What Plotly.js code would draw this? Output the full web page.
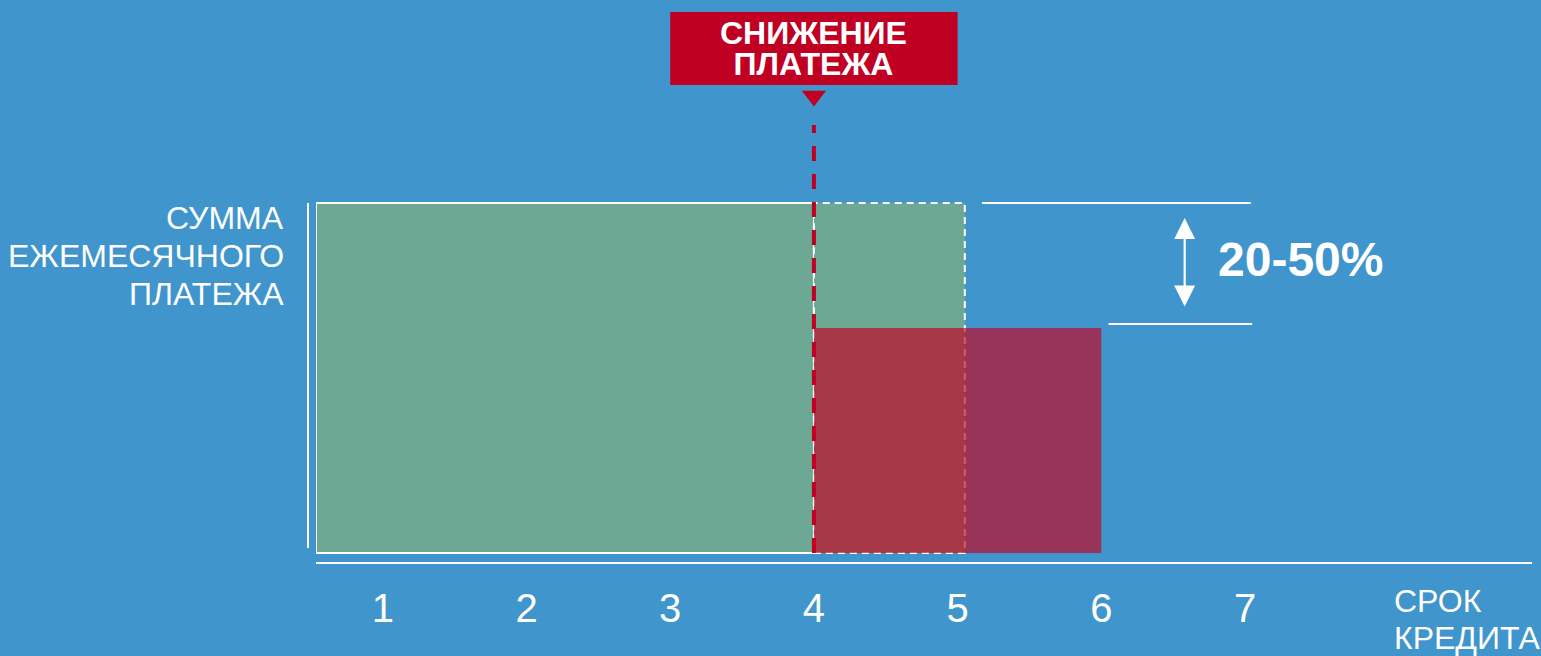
<!DOCTYPE html>
<html>
<head>
<meta charset="utf-8">
<script src="https://cdn.plot.ly/plotly-3.0.1.min.js"></script>
<style>html,body{margin:0;padding:0;background:#4095CD;}#chart{width:1541px;height:656px;}</style>
</head>
<body>
<div id="chart"></div>
<script>
// ---- data ----
const termTicks = [1, 2, 3, 4, 5, 6, 7];
const termTickLabels = ['1', '2', '3', '4', '5', '6', '7'];
const originalTerm = [0.535, 5.05];     // start / end of original loan term
const paidUntil = 4;                    // moment of payment reduction
const newTerm = [4, 6];                 // new term after reduction
const originalPayment = 1.0;
const newPayment = 0.643;
const reductionLabel = '20-50%';
const yTitleLines = ['СУММА', 'ЕЖЕМЕСЯЧНОГО', 'ПЛАТЕЖА'];
const xTitleLines = ['СРОК', 'КРЕДИТА'];
const calloutLines = ['СНИЖЕНИЕ', 'ПЛАТЕЖА'];

const BLUE = '#4095CD', GREEN = '#6CA894', RED = '#C00023';
const FONT = 'Liberation Sans, Arial, sans-serif';
const PW = 1216, PH = 562, ML = 316;   // plot geometry helpers for paper refs

const shapes = [
  {type:'rect', xref:'x', yref:'y', x0: originalTerm[0], x1: paidUntil, y0: 0, y1: originalPayment,
   fillcolor: GREEN, line:{color:'white', width:2}, layer:'above'},
  {type:'rect', xref:'x', yref:'y', x0: paidUntil, x1: originalTerm[1], y0: 0, y1: originalPayment,
   fillcolor: GREEN, line:{color:'white', width:2, dash:'7px,5px'}, layer:'above'},
  {type:'rect', xref:'x', yref:'y', x0: newTerm[0], x1: newTerm[1], y0: 0, y1: newPayment,
   fillcolor: 'rgba(198,0,30,0.66)', line:{width:0}, layer:'above'},
  {type:'line', xref:'x', yref:'y', x0: 5.17, x1: 7.04, y0: originalPayment, y1: originalPayment,
   line:{color:'white', width:2}},
  {type:'line', xref:'x', yref:'y', x0: 6.05, x1: 7.05, y0: 0.654, y1: 0.654,
   line:{color:'white', width:2}},
  {type:'line', xref:'x', yref:'y', x0: paidUntil, x1: paidUntil, y0: 0, y1: 1.223,
   line:{color: RED, width:4, dash:'15px,13px'}},
  {type:'rect', xref:'x', yref:'y', x0: paidUntil - 1.0, x1: paidUntil + 1.0, y0: 1.337, y1: 1.546,
   fillcolor: RED, line:{width:0}},
  {type:'line', xref:'paper', yref:'paper', x0: -8/PW, x1: -8/PW, y0: (PH-548)/PH, y1: (PH-203)/PH,
   line:{color:'white', width:2}}
];

const annotations = [];
yTitleLines.forEach((t, i) => annotations.push({
  xref:'paper', yref:'paper', x: (286-ML)/PW, y: (PH-(218+38*i))/PH, xanchor:'right', yanchor:'middle',
  text: t, showarrow:false, font:{family:FONT, size:32, color:'white'}}));
xTitleLines.forEach((t, i) => annotations.push({
  xref:'paper', yref:'paper', x: (1392-ML)/PW, y: (PH-(601+37*i))/PH, xanchor:'left', yanchor:'middle',
  text: t, showarrow:false, font:{family:FONT, size:32, color:'white'}}));
annotations.push({
  xref:'x', yref:'y', x: paidUntil, y: (553-54)/350, yanchor:'middle', align:'center',
  text: '<b>'+calloutLines.join('<br>')+'</b>', showarrow:false,
  font:{family:FONT, size:32, color:'white'}});
annotations.push({xref:'x', yref:'y', x: 6.80, y: 0.84, xanchor:'left', yanchor:'middle',
  text: '<b>'+reductionLabel+'</b>', showarrow:false, font:{family:FONT, size:48, color:'white'}});
annotations.push({xref:'x', yref:'y', axref:'x', ayref:'y', x: 6.58, y: 0.957, ax: 6.58, ay: 0.70, text:'',
  showarrow:true, arrowhead:2, startarrowhead:2, arrowside:'end+start', arrowwidth:2.2, arrowsize:1.9,
  startarrowsize:1.9, arrowcolor:'white', startstandoff:0, standoff:0});

const traces = [
  {type:'scatter', mode:'markers', x:[paidUntil], y:[(553-96)/350],
   marker:{symbol:'triangle-down', size:21, color:RED}, hoverinfo:'skip', cliponaxis:false}
];

const layout = {
  width:1541, height:656,
  paper_bgcolor: BLUE, plot_bgcolor: BLUE,
  margin:{l:ML, r:9, t:0, b:94},
  showlegend:false,
  xaxis:{range:[0.535, 8.997], showgrid:false, zeroline:false, showline:true, linecolor:'white', linewidth:2,
         tickvals: termTicks, ticktext: termTickLabels, ticks:'', ticklabelstandoff: 10,
         tickfont:{family:FONT, size:40, color:'white'}, fixedrange:true},
  yaxis:{range:[-0.0257, 1.58], visible:false, fixedrange:true},
  shapes: shapes,
  annotations: annotations
};

Plotly.newPlot('chart', traces, layout, {displayModeBar:false, staticPlot:true}).then(() => {
  // tighten the line spacing of the two-line callout to match the reference
  document.querySelectorAll('.annotation-text').forEach(el => {
    const lines = el.querySelectorAll('tspan.line');
    if (lines.length === 2) lines[1].setAttribute('dy', '31');
  });
});
</script>
</body>
</html>
